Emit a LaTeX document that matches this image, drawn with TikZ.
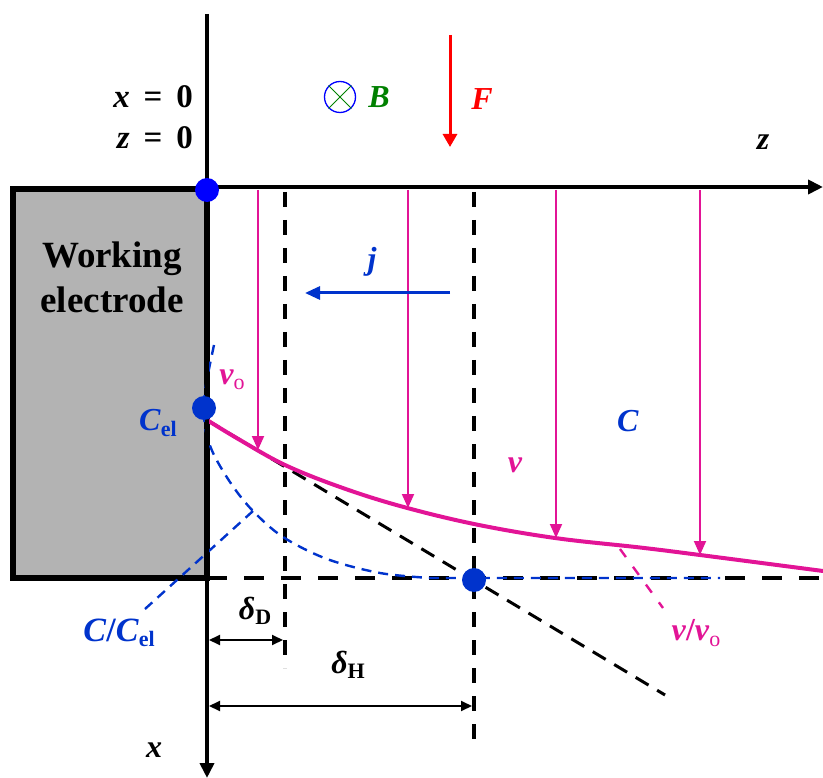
\documentclass[tikz,border=0pt]{standalone}
\usepackage{fontspec}
\setmainfont{Liberation Serif}
\usetikzlibrary{arrows.meta}
\definecolor{mag}{RGB}{226,20,150}
\definecolor{eblue}{RGB}{0,51,204}
\definecolor{pblue}{RGB}{0,0,255}
\definecolor{bgreen}{RGB}{0,128,0}
\definecolor{egray}{RGB}{179,179,179}
\newcommand\mysub[1]{\raisebox{-0.35ex}{\fontsize{22}{22}\selectfont #1}}
\begin{document}
\begin{tikzpicture}[x=1pt,y=-1pt,
  lbl/.style={font=\fontsize{32}{38}\selectfont\bfseries, inner sep=0pt},
  axisline/.style={line width=4.5pt, -{Triangle[length=15pt,width=14pt]}},
  blkdash/.style={black, line width=3.3pt, dash pattern=on 15pt off 13pt},
  bludash/.style={eblue, line width=2.4pt, dash pattern=on 10pt off 7pt},
  magarrow/.style={mag, line width=1.9pt, -{Triangle[length=14pt,width=12pt]}},
  dimarrow/.style={black, line width=2pt, {Triangle[length=11pt,width=10pt]}-{Triangle[length=11pt,width=10pt]}},
  dot/.style={circle, inner sep=0pt, minimum size=24pt}]
\useasboundingbox (0,0) rectangle (823,778);

% electrode
\draw[line width=6pt, fill=egray] (13,189) rectangle (207,578);
\node[lbl, font=\fontsize{37}{45}\selectfont\bfseries, align=center] (we) at (112,277) {Working\\electrode};

% coordinates
\coordinate (O) at (207,187);
\coordinate (vz) at (207,420);
\coordinate (dH) at (474,580);

% dashed construction lines
\draw[blkdash, line width=4pt, dash pattern=on 20pt off 17pt] (207,578) -- (823,578);
\draw[blkdash] (285,192) -- (285,668);
\draw[blkdash] (474,192) -- (474,742);
\draw[blkdash, line width=3pt, dash pattern=on 15pt off 10pt] (vz) -- (665,695);

% concentration curve
\draw[bludash] plot[smooth, tension=0.55] coordinates {(214,345) (206,385) (204,410) (206,432) (214,455) (232,485) (253,511) (283,537) (327,559) (380,573) (430,578)} -- (720,578);
\draw[bludash] (253,511) -- (145,609);

% velocity curve
\draw[mag, line width=4pt] plot[smooth, tension=0.6] coordinates {(207,420) (240,440) (285,465) (340,487) (400,506) (474,524) (555,538) (640,547.5) (700,555) (823,571)};
\draw[mag, line width=2.4pt, dash pattern=on 10pt off 12pt] (620,549) -- (663,608);

% velocity arrows
\coordinate (a1) at (258,450);
\coordinate (a2) at (408,508);
\coordinate (a3) at (556,538);
\coordinate (a4) at (700,555);
\draw[magarrow] (258,190) -- (a1);
\draw[magarrow] (408,190) -- (a2);
\draw[magarrow] (556,190) -- (a3);
\draw[magarrow] (700,190) -- (a4);

% axes
\draw[axisline] (207,14) -- (207,778);
\draw[axisline, line width=4pt] (O) -- (823,187);

% dots
\node[dot, fill=pblue] (d0) at (207,190) {};
\node[dot, fill=eblue] (d1) at (204,408) {};
\node[dot, fill=eblue] (d2) at (dH) {};

% j arrow
\coordinate (j1) at (450,293);
\coordinate (j2) at (305,293);
\draw[eblue, line width=3pt, -{Triangle[length=15pt,width=13pt]}] (j1) -- (j2);
\node[lbl, text=eblue] (jl) at (372,262) {\textit{j}};

% F arrow
\coordinate (f1) at (450,35);
\coordinate (f2) at (450,147);
\draw[red, line width=3pt, -{Triangle[length=13pt,width=14pt]}] (f1) -- (f2);
\node[lbl, text=red] (fl) at (482,99) {\textit{F}};

% B symbol
\node[circle, draw=pblue, line width=1.3pt, minimum size=31pt, inner sep=0pt] (bc) at (340,97) {};
\draw[bgreen, line width=0.9pt] (bc.north east) -- (bc.south west) (bc.north west) -- (bc.south east);
\node[lbl, text=bgreen] (bl) at (379,97) {\textit{B}};

% axis labels
\node[lbl, anchor=east, font=\fontsize{33}{40}\selectfont\bfseries] (x0) at (193,97) {\textit{x}\hspace{0.42em}=\hspace{0.42em}0};
\node[lbl, anchor=east, font=\fontsize{33}{40}\selectfont\bfseries] (z0) at (193,138) {\textit{z}\hspace{0.42em}=\hspace{0.42em}0};
\node[lbl] (zl) at (763,142) {\textit{z}};
\node[lbl] (xl) at (154,750) {\textit{x}};

% curve labels
\node[lbl, text=mag] (vo) at (232,380) {\textit{v}\mysub{\mdseries o}};
\node[lbl, text=eblue] (cel) at (158,423) {\textit{C}\mysub{el}};
\node[lbl, text=eblue] (cl) at (628,421) {\textit{C}};
\node[lbl, text=mag] (vl) at (515,465) {\textit{v}};
\node[lbl, text=mag] (vvo) at (696,633) {\textit{v}/\textit{v}\mysub{\mdseries o}};
\node[lbl, text=eblue, font=\fontsize{34}{40}\selectfont\bfseries] (ccel) at (119,633) {\textit{C}/\textit{C}\mysub{el}};

% dimensions
\coordinate (dd1) at (209,640);
\coordinate (dd2) at (283,640);
\draw[dimarrow] (dd1) -- (dd2);
\node[lbl] (dDl) at (255,611) {\textit{δ}\mysub{D}};
\coordinate (dh1) at (209,706);
\coordinate (dh2) at (472,706);
\draw[dimarrow] (dh1) -- (dh2);
\node[lbl] (dHl) at (348,665) {\textit{δ}\mysub{H}};
\end{tikzpicture}
\end{document}
